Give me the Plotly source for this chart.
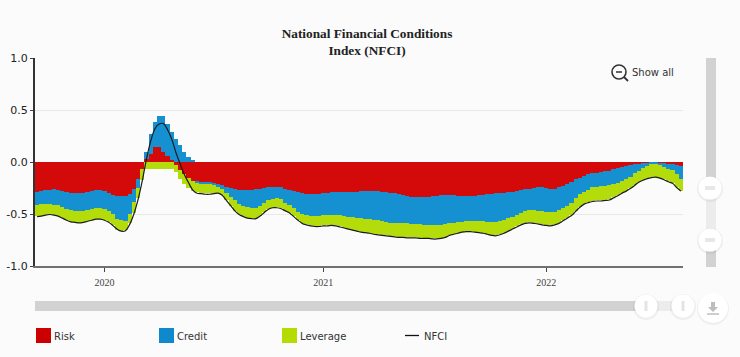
import pandas as pd
import plotly.graph_objects as go

weeks = [d.strftime("%Y-%m-%d") for d in pd.date_range("2019-09-13", periods=154, freq="7D")]
year_ticks = ["2020-01-03", "2021-01-01", "2022-01-07"]
year_labels = ["2020", "2021", "2022"]
y_ticks = [-1.0, -0.5, 0.0, 0.5, 1.0]
y_labels = ["-1.0", "-0.5", "0.0", "0.5", "1.0"]

risk = [-.285,-.28,-.27,-.27,-.26,-.265,-.28,-.29,-.295,-.30,-.30,-.30,-.29,-.28,-.27,-.27,-.28,-.30,-.315,-.325,-.33,-.33,-.31,-.26,-.16,-.07,
        .03,.08,.14,.14,.10,.06,.02,-.03,-.08,-.12,-.15,-.18,
        -.19,-.19,-.19,-.19,-.20,-.21,-.22,-.24,-.25,-.26,-.265,-.27,-.27,-.27,-.26,-.255,-.25,-.245,-.24,-.24,-.245,-.26,-.27,-.28,-.29,-.30,-.305,-.305,-.305,-.305,-.30,-.30,-.29,-.29,-.29,-.29,-.29,-.29,-.285,-.28,-.275,-.275,-.28,-.28,-.285,-.29,-.295,-.30,-.31,-.32,-.325,-.335,-.335,-.335,-.335,-.335,-.33,-.325,-.32,-.32,-.32,-.32,-.325,-.33,-.33,-.33,-.325,-.32,-.315,-.31,-.305,-.30,-.30,-.295,-.29,-.285,-.275,-.27,-.26,-.255,-.25,-.245,-.245,-.25,-.255,-.255,-.245,-.23,-.21,-.19,-.165,-.15,-.135,-.12,-.11,-.105,-.10,-.09,-.085,-.07,-.06,-.05,-.04,-.03,-.02,-.015,-.01,-.005,0,0,-.005,-.01,-.015,-.02,-.03,-.04]

credit = [-.125,-.125,-.13,-.13,-.15,-.15,-.15,-.16,-.17,-.17,-.175,-.17,-.17,-.17,-.175,-.17,-.17,-.17,-.185,-.225,-.23,-.235,-.19,-.12,-.09,0,
          .07,.19,.24,.30,.34,.31,.27,.22,.16,.10,.045,.01,
          -.01,-.02,-.02,-.02,-.02,-.03,-.04,-.06,-.09,-.11,-.135,-.15,-.16,-.17,-.18,-.165,-.14,-.125,-.12,-.11,-.115,-.13,-.14,-.16,-.19,-.20,-.205,-.21,-.21,-.21,-.21,-.205,-.215,-.215,-.22,-.23,-.235,-.24,-.255,-.26,-.27,-.275,-.275,-.28,-.285,-.29,-.29,-.285,-.28,-.27,-.265,-.26,-.26,-.265,-.27,-.275,-.28,-.285,-.29,-.28,-.27,-.265,-.255,-.245,-.24,-.24,-.245,-.25,-.255,-.265,-.27,-.275,-.27,-.265,-.25,-.24,-.23,-.22,-.21,-.205,-.215,-.225,-.23,-.23,-.23,-.225,-.22,-.21,-.21,-.20,-.18,-.16,-.15,-.145,-.135,-.135,-.135,-.14,-.14,-.14,-.14,-.135,-.125,-.11,-.09,-.07,-.05,-.03,-.02,-.015,-.025,-.04,-.05,-.06,-.09,-.12]

leverage = [-.11,-.11,-.105,-.105,-.10,-.105,-.11,-.11,-.11,-.11,-.11,-.11,-.11,-.11,-.105,-.11,-.11,-.11,-.11,-.10,-.105,-.085,-.09,-.11,-.10,-.10,
            -.07,-.07,-.07,-.07,-.07,-.07,-.07,-.07,-.08,-.09,-.10,-.10,
            -.09,-.09,-.09,-.09,-.08,-.06,-.06,-.07,-.08,-.10,-.10,-.10,-.105,-.10,-.10,-.10,-.09,-.08,-.08,-.085,-.085,-.08,-.08,-.08,-.08,-.085,-.09,-.095,-.10,-.10,-.10,-.105,-.10,-.105,-.11,-.11,-.115,-.12,-.12,-.13,-.13,-.13,-.135,-.135,-.13,-.125,-.125,-.13,-.13,-.13,-.135,-.13,-.13,-.13,-.125,-.12,-.125,-.125,-.12,-.12,-.11,-.105,-.10,-.095,-.095,-.095,-.10,-.105,-.11,-.115,-.125,-.13,-.125,-.12,-.12,-.115,-.115,-.11,-.115,-.12,-.12,-.12,-.125,-.125,-.125,-.12,-.12,-.12,-.115,-.12,-.125,-.12,-.115,-.12,-.13,-.13,-.135,-.135,-.135,-.13,-.12,-.11,-.11,-.11,-.11,-.105,-.11,-.12,-.125,-.125,-.12,-.115,-.12,-.12,-.12,-.115]

nfci = [-.525,-.52,-.51,-.505,-.51,-.52,-.54,-.56,-.575,-.58,-.585,-.58,-.57,-.56,-.55,-.55,-.56,-.58,-.61,-.645,-.665,-.66,-.60,-.50,-.36,-.18,
        .03,.20,.32,.365,.37,.31,.22,.09,-.02,-.12,-.20,-.27,
        -.30,-.305,-.31,-.31,-.305,-.30,-.32,-.37,-.42,-.47,-.505,-.525,-.54,-.545,-.545,-.52,-.485,-.455,-.44,-.44,-.45,-.47,-.49,-.525,-.56,-.59,-.605,-.615,-.62,-.62,-.615,-.615,-.61,-.615,-.625,-.635,-.645,-.655,-.665,-.675,-.68,-.685,-.695,-.70,-.705,-.71,-.715,-.72,-.725,-.725,-.73,-.73,-.73,-.735,-.735,-.735,-.74,-.74,-.735,-.725,-.705,-.695,-.685,-.675,-.67,-.67,-.675,-.68,-.685,-.695,-.705,-.71,-.70,-.685,-.665,-.645,-.625,-.605,-.59,-.585,-.59,-.595,-.605,-.61,-.615,-.605,-.59,-.565,-.54,-.515,-.475,-.435,-.405,-.39,-.38,-.375,-.375,-.37,-.365,-.345,-.325,-.30,-.28,-.255,-.225,-.195,-.175,-.16,-.15,-.145,-.155,-.17,-.19,-.205,-.245,-.28]

RED, BLUE, GREEN = "#d40a0a", "#1590d0", "#b4dc0a"
BG = "#fbfbfb"
L, R, T, B = 35, 683, 58, 266


def X(px):
    return (px - L) / (R - L)


def Y(py):
    return (B - py) / (B - T)


shapes, annos = [], []


def rect(x0, y0, x1, y1, color):
    shapes.append(dict(type="rect", xref="paper", yref="paper", x0=X(x0), x1=X(x1), y0=Y(y1), y1=Y(y0),
                       fillcolor=color, line_width=0, layer="above"))


def circle(cx, cy, r, fill, line=None, width=0):
    shapes.append(dict(type="circle", xref="paper", yref="paper", x0=X(cx - r), x1=X(cx + r), y0=Y(cy + r), y1=Y(cy - r),
                       fillcolor=fill, line=dict(color=line or fill, width=width), layer="above"))


def seg(x0, y0, x1, y1, color, width=1.0):
    shapes.append(dict(type="line", xref="paper", yref="paper", x0=X(x0), x1=X(x1), y0=Y(y0), y1=Y(y1),
                       line=dict(color=color, width=width), layer="above"))


def label(px, py, text, size=11, color="#333333", family="DejaVu Sans"):
    annos.append(dict(xref="paper", yref="paper", x=X(px), y=Y(py), text=text, showarrow=False,
                      xanchor="left", yanchor="middle", xshift=0, font=dict(size=size, color=color, family=family)))


def handle(cx, cy, vertical_bars):
    circle(cx, cy + 1, 13, "rgba(0,0,0,0.05)")
    circle(cx, cy, 11.5, "#ffffff")
    if vertical_bars:
        seg(cx - 0.8, cy - 5, cx - 0.8, cy + 5, "#d8d8d8", 1)
        seg(cx + 0.8, cy - 5, cx + 0.8, cy + 5, "#d8d8d8", 1)
    else:
        seg(cx - 5, cy - 1, cx + 5, cy - 1, "#d0d0d0", 1)
        seg(cx - 5, cy + 1, cx + 5, cy + 1, "#d0d0d0", 1)


# vertical scrollbar
rect(706, 58, 716, 267, "#d2d2d2")
rect(706, 188, 716, 240, "#ececec")
handle(710, 188, False)
handle(710, 240, False)
# horizontal scrollbar
rect(35, 301, 683, 311, "#d2d2d2")
rect(646, 301, 683, 311, "#ececec")
handle(646, 306, True)
handle(683, 306, True)
# download button
circle(713, 309, 16, "rgba(0,0,0,0.05)")
circle(713, 308, 15, "#ffffff")
shapes.append(dict(type="path", xref="paper", yref="paper", layer="above", fillcolor="#bdbdbd", line_width=0,
                   path=f"M {X(711)} {Y(302)} L {X(715)} {Y(302)} L {X(715)} {Y(307)} L {X(718)} {Y(307)} "
                        f"L {X(713)} {Y(312)} L {X(708)} {Y(307)} L {X(711)} {Y(307)} Z"))
seg(707, 314, 719, 314, "#bdbdbd", 1.5)
# show all
circle(619, 72, 7, "rgba(0,0,0,0)", "#333333", 1.6)
seg(616, 72, 622, 72, "#333333", 1.5)
seg(624, 77, 628, 81, "#333333", 1.8)
label(630, 72, "Show all", size=10)
# legend
for px, color, name in [(36, "#cc0000", "Risk"), (159, "#0f88cc", "Credit"), (282, "#b4dc00", "Leverage")]:
    rect(px, 328, px + 15, 343, color)
    label(px + 16, 336, name, size=10)
seg(405, 335.5, 419, 335.5, "#111111", 1.3)
label(422, 336, "NFCI", size=10)

fig = go.Figure()
fig.add_bar(x=weeks, y=risk, name="Risk", marker=dict(color=RED, line_width=0))
fig.add_bar(x=weeks, y=credit, name="Credit", marker=dict(color=BLUE, line_width=0))
fig.add_bar(x=weeks, y=leverage, name="Leverage", marker=dict(color=GREEN, line_width=0))
fig.add_scatter(x=weeks, y=nfci, name="NFCI", mode="lines", line=dict(color="#1a1a1a", width=1.2, shape="spline"))

fig.update_layout(
    width=740, height=357, autosize=False,
    margin=dict(l=L, r=740 - R, t=T, b=357 - B, pad=0, autoexpand=False),
    barmode="relative", bargap=0, showlegend=False,
    paper_bgcolor=BG, plot_bgcolor=BG,
    title=dict(text="<b>National Financial Conditions<br>Index (NFCI)</b>", x=367 / 740, xanchor="center",
               y=1 - 38 / 357, yref="container", yanchor="middle",
               font=dict(family="Liberation Serif", size=13.3, color="#222222"), automargin=False),
    xaxis=dict(type="category", categoryorder="array", categoryarray=weeks, range=[-0.5, 153.5], automargin=False,
               tickmode="array", tickvals=year_ticks, ticktext=year_labels, ticks="outside", ticklen=4, tickwidth=1,
               ticklabelstandoff=2,
               tickcolor="#444444", showgrid=False, showline=True, linecolor="#707070", linewidth=2,
               tickfont=dict(family="Liberation Serif", size=10, color="#444444")),
    yaxis=dict(range=[-1, 1], tickmode="array", tickvals=y_ticks, ticktext=y_labels, ticks="outside", ticklen=3, automargin=False,
               tickcolor="#444444", showgrid=True, gridcolor="#e8e8e8", gridwidth=1, zeroline=False,
               showline=True, linecolor="#333333", linewidth=2,
               tickfont=dict(family="DejaVu Sans", size=11, color="#222222")),
    shapes=shapes, annotations=annos,
)
fig.write_html("out.html", config=dict(displayModeBar=False),
               post_script="document.body.style.margin='0';document.body.style.background='#fbfbfb';")
